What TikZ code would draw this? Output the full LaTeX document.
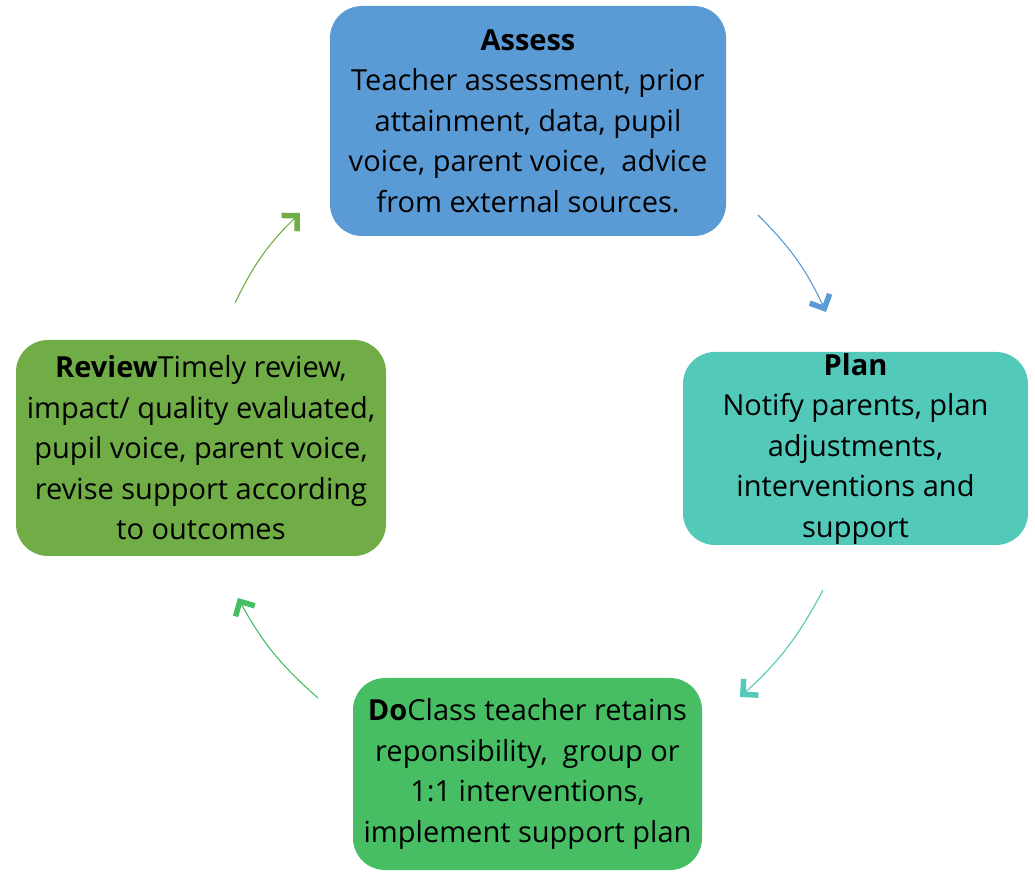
\documentclass[tikz,border=0pt]{standalone}
\usepackage{fontspec}
\setmainfont{Open Sans}
\usetikzlibrary{arrows.meta}
\definecolor{cblue}{RGB}{91,155,213}
\definecolor{cteal}{RGB}{82,201,185}
\definecolor{cgreen}{RGB}{71,190,99}
\definecolor{clgreen}{RGB}{112,173,71}
\tikzset{
  stagebox/.style={rounded corners=32pt, inner sep=0pt, align=center,
    font=\fontsize{29}{40.5}\selectfont, text=black},
  cyclearrow/.style={line width=1.1pt, bend left=10,
    -{Straight Barb[length=11pt,width=22pt,line width=5.5pt,sharp]}},
}
\begin{document}
\begin{tikzpicture}[x=1pt,y=1pt]
\useasboundingbox (0,0) rectangle (1035,872);
\node[stagebox, fill=cblue, minimum width=396pt, minimum height=230pt] (assess) at (528,751)
  {\textbf{Assess}\\Teacher assessment, prior\\attainment, data, pupil\\voice, parent voice,\ \ advice\\from external sources.};
\node[stagebox, fill=cteal, minimum width=345pt, minimum height=193pt] (plan) at (855.5,423.5)
  {\textbf{Plan}\\Notify parents, plan\\adjustments,\\interventions and\\support};
\node[stagebox, fill=cgreen, minimum width=349pt, minimum height=192pt] (do) at (527.5,98)
  {\textbf{Do}Class teacher retains\\reponsibility,\ \ group or\\1:1 interventions,\\implement support plan};
\node[stagebox, fill=clgreen, minimum width=370pt, minimum height=216pt] (review) at (201,424)
  {\textbf{Review}Timely review,\\impact/ quality evaluated,\\pupil voice, parent voice,\\revise support according\\to outcomes};
\coordinate (a1) at (758,657);
\coordinate (a2) at (826,560);
\coordinate (p1) at (823,282);
\coordinate (p2) at (740,175);
\coordinate (d1) at (318,174);
\coordinate (d2) at (238,274);
\coordinate (r1) at (235,569);
\coordinate (r2) at (300,659);
\draw[cyclearrow, cblue] (a1) to (a2);
\draw[cyclearrow, cteal] (p1) to (p2);
\draw[cyclearrow, cgreen] (d1) to (d2);
\draw[cyclearrow, clgreen] (r1) to (r2);
\end{tikzpicture}
\end{document}
